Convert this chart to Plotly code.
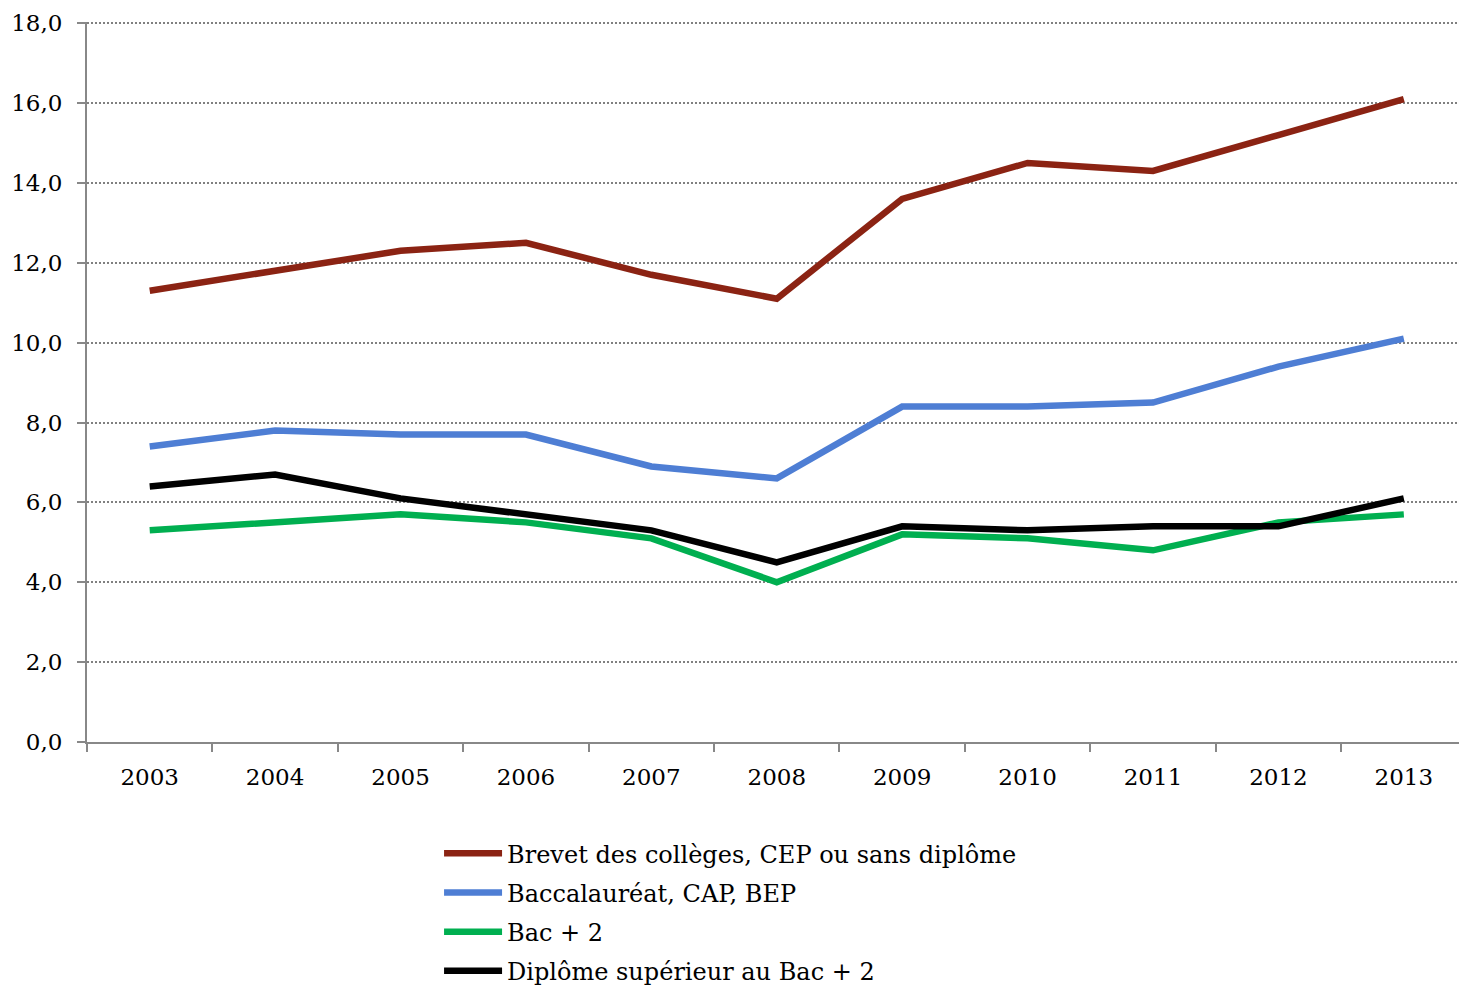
import plotly.graph_objects as go

years = ["2003", "2004", "2005", "2006", "2007", "2008", "2009", "2010", "2011", "2012", "2013"]
brevet = [11.3, 11.8, 12.3, 12.5, 11.7, 11.1, 13.6, 14.5, 14.3, 15.2, 16.1]
bac = [7.4, 7.8, 7.7, 7.7, 6.9, 6.6, 8.4, 8.4, 8.5, 9.4, 10.1]
bac2 = [5.3, 5.5, 5.7, 5.5, 5.1, 4.0, 5.2, 5.1, 4.8, 5.5, 5.7]
sup = [6.4, 6.7, 6.1, 5.7, 5.3, 4.5, 5.4, 5.3, 5.4, 5.4, 6.1]

names = ["Brevet des collèges, CEP ou sans diplôme", "Baccalauréat, CAP, BEP",
         "Bac + 2", "Diplôme supérieur au Bac + 2"]
colors = ["#8B2313", "#4E7ED4", "#00AF50", "#000000"]
series = [brevet, bac, bac2, sup]

FONT = "DejaVu Serif"

fig = go.Figure()
for i, (n, c, s) in enumerate(zip(names, colors, series)):
    fig.add_trace(go.Scatter(x=years, y=s, name=n, mode="lines",
                             line=dict(color=c, width=6.5), legendgroup=f"g{i}"))

fig.update_layout(
    width=1459, height=987,
    margin=dict(l=87, r=0, t=22, b=245, autoexpand=False),
    paper_bgcolor="white", plot_bgcolor="white",
    separators=", ",
    font=dict(family=FONT, size=23, color="black"),
    showlegend=True,
    legend=dict(x=0.2566, y=-0.1238, xanchor="left", yanchor="top",
                orientation="v", traceorder="grouped", tracegroupgap=5,
                itemwidth=58, font=dict(family=FONT, size=24, color="black"),
                bgcolor="rgba(0,0,0,0)"),
)
fig.update_xaxes(
    type="category", range=[-0.5, 10.44], automargin=False,
    showline=True, linecolor="#888888", linewidth=2,
    ticks="outside", tickson="boundaries", ticklen=8, tickwidth=2, tickcolor="#888888",
    showgrid=False, ticklabelstandoff=13,
    tickfont=dict(family=FONT, size=23, color="black"),
)
fig.update_yaxes(
    range=[0, 18.03], dtick=2, tick0=0, tickformat=".1f", automargin=False,
    showline=True, linecolor="#888888", linewidth=2,
    ticks="outside", ticklen=8, tickwidth=2, tickcolor="#888888",
    showgrid=True, gridcolor="#808080", gridwidth=2, griddash="2px,2px",
    zeroline=False, ticklabelstandoff=10,
    tickfont=dict(family=FONT, size=23, color="black"),
)

fig.write_html("out.html", config={"displayModeBar": False},
               post_script="document.body.style.margin='0';")
